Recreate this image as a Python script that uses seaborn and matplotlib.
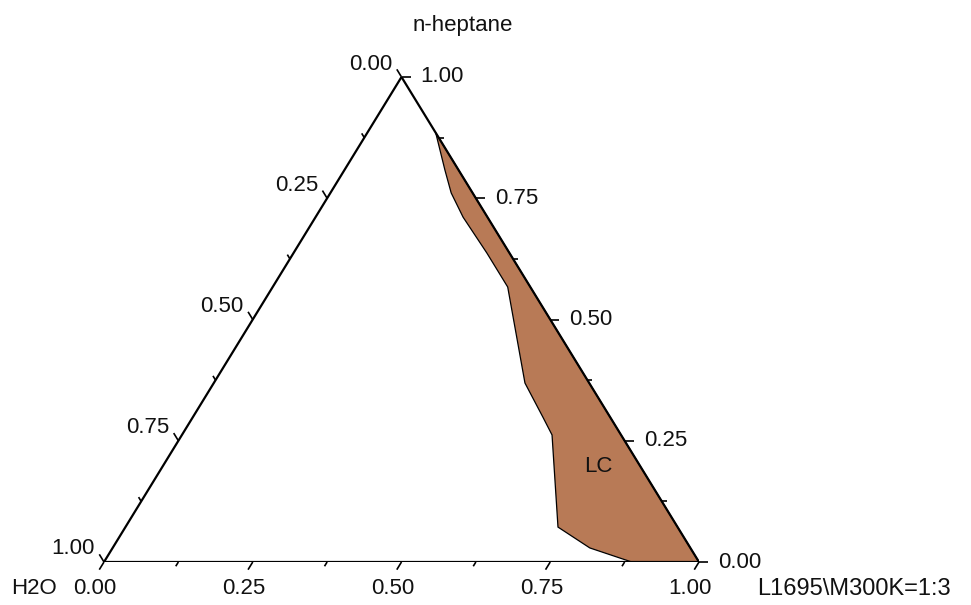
import numpy as np
import pandas as pd
import matplotlib
matplotlib.use("Agg")
import matplotlib.pyplot as plt
import seaborn as sns

# axis ticks (fractions) shared by the three sides
major_ticks = [0.0, 0.25, 0.5, 0.75, 1.0]
major_labels = ["0.00", "0.25", "0.50", "0.75", "1.00"]
minor_ticks = [0.125, 0.375, 0.625, 0.875]

# LC region boundary (L1695\M300K=1:3 and n-heptane fractions)
lc_l1695 = [0.115, 0.169, 0.203, 0.248, 0.325, 0.395, 0.523, 0.588, 0.622, 0.727, 0.802, 0.887, 1.0]
lc_heptane = [0.885, 0.808, 0.761, 0.711, 0.637, 0.567, 0.369, 0.299, 0.262, 0.072, 0.029, 0.0, 0.0]

# triangle corners as (L1695, heptane)
corner_l1695 = [0.0, 1.0, 0.0, 0.0]
corner_heptane = [0.0, 0.0, 1.0, 0.0]

W, H = 971, 605
PXW, PXH = 595, 485  # pixel size of the triangle's bounding box


def to_xy(l, h):
    l = np.asarray(l, dtype=float)
    h = np.asarray(h, dtype=float)
    return l + h / 2, h


def px(dx, dy):
    # pixel offset -> data offset
    return dx / PXW, dy / PXH


sns.set_theme(style="white")
plt.rcParams["font.family"] = ["Liberation Sans", "DejaVu Sans"]

fig = plt.figure(figsize=(W / 100, H / 100), dpi=100)
ax = fig.add_axes([104 / W, (H - 562) / H, PXW / W, PXH / H])
ax.set_xlim(0, 1)
ax.set_ylim(0, 1)
ax.axis("off")

# LC region
px_lc, py_lc = to_xy(lc_l1695, lc_heptane)
ax.fill(px_lc, py_lc, facecolor="#B87A56", edgecolor="black", linewidth=0.9, zorder=2)

# triangle frame
cx, cy = to_xy(corner_l1695, corner_heptane)
frame = pd.DataFrame({"x": cx, "y": cy, "order": range(len(cx))})
sns.lineplot(data=frame, x="x", y="y", sort=False, estimator=None, color="black",
             linewidth=1.6, ax=ax, zorder=3)
ax.set_xlabel("")
ax.set_ylabel("")

fs = 16
txt = "#111111"
tick_kw = dict(color="black", linewidth=1.2, clip_on=False, zorder=3, solid_capstyle="butt")
d_bottom = (-0.524, -0.852)
d_right = (1.0, 0.0)
d_left = (-0.522, 0.853)

for ticks, length in ((major_ticks, 9), (minor_ticks, 5)):
    for t in ticks:
        # bottom side: L1695 fraction
        x0, y0 = to_xy(t, 0.0)
        ox, oy = px(d_bottom[0] * length, d_bottom[1] * length)
        ax.plot([x0, x0 + ox], [y0, y0 + oy], **tick_kw)
        # right side: n-heptane fraction
        x0, y0 = to_xy(1 - t, t)
        ox, oy = px(d_right[0] * length, d_right[1] * length)
        ax.plot([x0, x0 + ox], [y0, y0 + oy], **tick_kw)
        # left side: H2O fraction
        x0, y0 = to_xy(0.0, 1 - t)
        ox, oy = px(d_left[0] * length, d_left[1] * length)
        ax.plot([x0, x0 + ox], [y0, y0 + oy], **tick_kw)

for t, lab in zip(major_ticks, major_labels):
    x0, y0 = to_xy(t, 0.0)
    ox, oy = px(-9, -27)
    ax.text(x0 + ox, y0 + oy, lab, ha="center", va="center", fontsize=fs, color=txt)
    x0, y0 = to_xy(1 - t, t)
    ox, oy = px(19, 0)
    ax.text(x0 + ox, y0 + oy, lab, ha="left", va="center", fontsize=fs, color=txt)
    x0, y0 = to_xy(0.0, 1 - t)
    ox, oy = px(-9, 13)
    ax.text(x0 + ox, y0 + oy, lab, ha="right", va="center", fontsize=fs, color=txt)

# corner names
fig.text(463 / W, 1 - 25 / H, "n-heptane", ha="center", va="center", fontsize=fs, color=txt)
fig.text(34 / W, 1 - 588 / H, "H2O", ha="center", va="center", fontsize=fs, color=txt)
fig.text(757 / W, 1 - 589 / H, "L1695\\M300K=1:3", ha="left", va="center", fontsize=fs + 1,
         color=txt)

# region label
fig.text(598 / W, 1 - 466 / H, "LC", ha="center", va="center", fontsize=fs, color=txt)

fig.savefig("out.png", dpi=100)
